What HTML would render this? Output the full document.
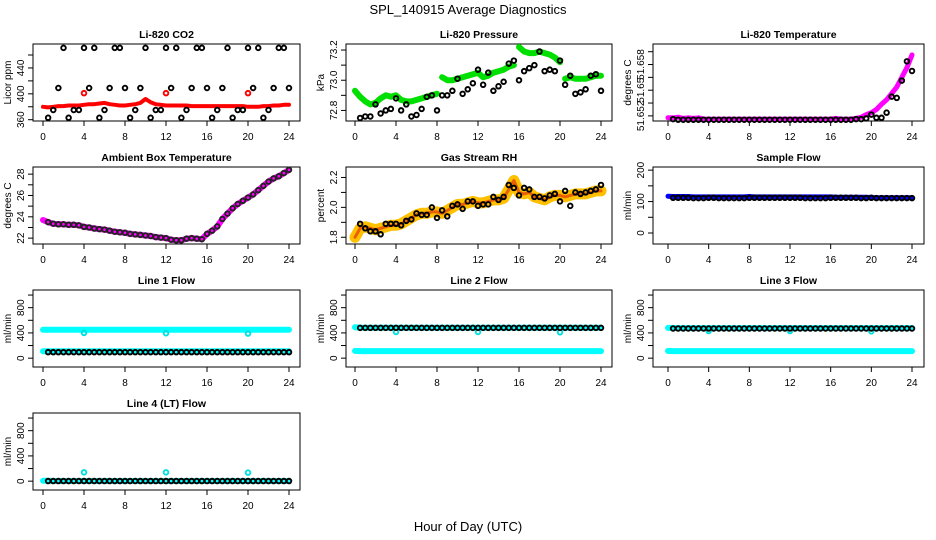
<!DOCTYPE html>
<html><head><meta charset="utf-8"><style>
html,body{margin:0;padding:0;background:#fff;}
svg{display:block;font-family:"Liberation Sans",sans-serif;}
</style></head><body>
<svg id="c" width="936" height="540" viewBox="0 0 936 540" xmlns="http://www.w3.org/2000/svg">
<text x="468" y="14" text-anchor="middle" font-size="13">SPL_140915  Average Diagnostics</text>
<text x="468" y="531" text-anchor="middle" font-size="13">Hour of Day (UTC)</text>
</svg>
<script>
// ---- data ----
const bandHours = [0,0.5,1,1.5,2,2.5,3,3.5,4,4.5,5,5.5,6,6.5,7,7.5,8,8.5,9,9.5,10,10.5,11,11.5,12,12.5,13,13.5,14,14.5,15,15.5,16,16.5,17,17.5,18,18.5,19,19.5,20,20.5,21,21.5,22,22.5,23,23.5,24];
const hours = [0.5,1,1.5,2,2.5,3,3.5,4,4.5,5,5.5,6,6.5,7,7.5,8,8.5,9,9.5,10,10.5,11,11.5,12,12.5,13,13.5,14,14.5,15,15.5,16,16.5,17,17.5,18,18.5,19,19.5,20,20.5,21,21.5,22,22.5,23,23.5,24];
const outlierHours = [4,12,20];

const co2Band = [380,379,380,381,381,382,382,382,383,384,384,385,386,384,383,382,382,383,384,386,392,387,384,383,382,382,382,382,382,381,381,381,381,381,381,381,381,381,381,381,380,380,380,381,381,382,382,383,383];
const co2Black = [363,375,409,471,363,375,375,471,409,471,363,375,409,471,471,409,363,375,409,471,363,375,375,471,409,471,363,375,409,471,471,409,363,375,409,471,363,375,375,471,409,471,363,375,409,471,471,409];
const co2Outliers = [401,401,401];

const presBand = [72.93,72.89,72.86,72.84,72.85,72.88,72.90,72.89,72.90,72.87,72.86,72.86,72.87,72.88,72.89,72.90,72.91,73.02,73.00,73.00,73.01,73.02,73.03,73.04,73.05,73.02,73.03,73.05,73.06,73.07,73.09,73.10,73.22,73.19,73.18,73.18,73.19,73.18,73.17,73.15,73.12,73.01,73.02,73.01,73.01,73.01,73.02,73.03,73.03];
const presBlack = [72.75,72.76,72.76,72.84,72.78,72.80,72.81,72.88,72.80,72.84,72.76,72.77,72.81,72.89,72.90,72.80,72.90,72.90,72.93,73.01,72.91,72.94,72.98,73.07,72.97,73.05,72.93,72.96,72.99,73.11,73.13,73.00,73.06,73.08,73.10,73.19,73.06,73.07,73.06,73.13,72.97,73.03,72.91,72.92,72.94,73.03,73.04,72.93];

const tempBand = [51.6457,51.6457,51.6458,51.6456,51.6457,51.6456,51.6457,51.6455,51.6455,51.6455,51.6455,51.6455,51.6455,51.6455,51.6455,51.6455,51.6455,51.6455,51.6455,51.6455,51.6455,51.6455,51.6455,51.6455,51.6455,51.6455,51.6455,51.6455,51.6455,51.6455,51.6455,51.6455,51.6455,51.6456,51.6455,51.6455,51.6455,51.6456,51.6458,51.6462,51.6465,51.6470,51.6478,51.6485,51.6495,51.6505,51.6520,51.6535,51.6555];
const tempBlack = [51.6455,51.6454,51.6454,51.6454,51.6454,51.6454,51.6454,51.6454,51.6454,51.6454,51.6454,51.6454,51.6454,51.6454,51.6454,51.6454,51.6454,51.6454,51.6454,51.6454,51.6454,51.6454,51.6454,51.6454,51.6454,51.6454,51.6454,51.6454,51.6454,51.6454,51.6454,51.6454,51.6454,51.6454,51.6454,51.6454,51.6455,51.6455,51.6456,51.6462,51.6457,51.6457,51.6465,51.6490,51.6488,51.6515,51.6545,51.6530];

const ambBand = [23.7,23.5,23.35,23.3,23.3,23.25,23.25,23.2,23.05,23.0,22.9,22.85,22.8,22.7,22.6,22.55,22.5,22.4,22.35,22.3,22.25,22.2,22.1,22.05,22.0,21.85,21.8,21.8,21.95,22.0,21.95,21.9,22.4,22.7,23.1,23.8,24.3,24.8,25.2,25.5,25.8,26.1,26.5,26.9,27.3,27.6,27.8,28.1,28.4];
const ambBlack = [23.5,23.35,23.3,23.3,23.25,23.25,23.2,23.05,23.0,22.9,22.85,22.8,22.7,22.6,22.55,22.5,22.4,22.35,22.3,22.25,22.2,22.1,22.05,22.0,21.85,21.8,21.8,21.95,22.0,21.95,21.9,22.4,22.7,23.1,23.8,24.3,24.8,25.2,25.5,25.8,26.1,26.5,26.9,27.3,27.6,27.8,28.1,28.4];

const rhBand = [1.80,1.86,1.87,1.86,1.85,1.86,1.87,1.88,1.88,1.89,1.91,1.93,1.95,1.96,1.96,1.97,1.97,1.96,1.98,2.00,2.02,2.02,2.03,2.04,2.03,2.03,2.04,2.05,2.05,2.06,2.12,2.18,2.10,2.09,2.10,2.07,2.06,2.05,2.07,2.08,2.08,2.07,2.08,2.09,2.09,2.09,2.10,2.11,2.11];
const rhBlack = [1.89,1.86,1.84,1.84,1.82,1.89,1.89,1.89,1.88,1.91,1.92,1.96,1.95,1.95,2.00,1.93,1.98,1.94,2.01,2.02,1.99,2.04,2.04,2.01,2.02,2.02,2.07,2.05,2.07,2.15,2.13,2.08,2.13,2.12,2.07,2.07,2.06,2.08,2.09,2.04,2.11,2.01,2.10,2.09,2.10,2.11,2.12,2.15];

const sampleBand = [117,116,116,116,116,115,115,115,115,115,115,115,115,115,115,115,116,115,115,115,115,115,115,115,115,115,115,115,115,115,115,115,115,114,114,114,114,114,114,114,113,112,112,112,112,112,112,112,112];
const sampleBlack = [112,112,112,112,111,111,111,112,112,111,111,111,111,111,111,112,112,112,112,112,112,112,112,112,112,112,111,111,111,111,111,112,112,112,112,112,112,111,111,112,111,111,111,111,111,111,111,111];

const line1Upper = [450,450,450,450,450,450,450,450,450,450,450,450,450,450,450,450,450,450,450,450,450,450,450,450,450,450,450,450,450,450,450,450,450,450,450,450,450,450,450,450,450,450,450,450,450,450,450,450,450];
const line1Lower = [110,110,108,108,108,108,108,108,108,108,108,108,108,108,108,108,108,108,108,108,108,108,108,108,108,108,108,108,108,108,108,108,108,108,108,108,108,108,108,108,108,108,108,108,108,108,108,108,108];
const line1Black = [95,95,95,95,95,95,95,95,95,95,95,95,95,95,95,95,95,95,95,95,95,95,95,95,95,95,95,95,95,95,95,95,95,95,95,95,95,95,95,95,95,95,95,95,95,95,95,95];
const line1Outliers = [400,395,390];

const line2Upper = [490,485,482,482,482,482,482,482,482,482,482,482,482,482,482,482,482,482,482,482,482,482,482,482,482,482,482,482,482,482,482,482,482,482,482,482,482,482,482,482,482,482,482,482,482,482,482,482,482];
const line2Lower = [115,112,112,112,112,112,112,112,112,112,112,112,112,112,112,112,112,112,112,112,112,112,112,112,112,112,112,112,112,112,112,112,112,112,112,112,112,112,112,112,112,112,112,112,112,112,112,112,112];
const line2Black = [480,480,480,480,480,480,480,480,480,480,480,480,480,480,480,480,480,480,480,480,480,480,480,480,480,480,480,480,480,480,480,480,480,480,480,480,480,480,480,480,480,480,480,480,480,480,480,480];
const line2Outliers = [415,415,410];

const line3Upper = [480,478,476,476,476,476,476,476,476,476,476,476,476,476,476,476,476,476,476,476,476,476,476,476,476,476,476,476,476,476,476,476,476,476,476,476,476,476,476,476,476,476,476,476,476,476,476,476,476];
const line3Lower = [115,112,112,112,112,112,112,112,112,112,112,112,112,112,112,112,112,112,112,112,112,112,112,112,112,112,112,112,112,112,112,112,112,112,112,112,112,112,112,112,112,112,112,112,112,112,112,112,112];
const line3Black = [470,470,470,470,470,470,470,470,470,470,470,470,470,470,470,470,470,470,470,470,470,470,470,470,470,470,470,470,470,470,470,470,470,470,470,470,470,470,470,470,470,470,470,470,470,470,470,470];
const line3Outliers = [430,430,425];

const line4Band = [5,5,3,3,3,3,3,3,3,3,3,3,3,3,3,3,3,3,3,3,3,3,3,3,3,3,3,3,3,3,3,3,3,3,3,3,3,3,3,3,3,3,3,3,3,3,3,3,3];
const line4Black = [2,2,2,2,2,2,2,2,2,2,2,2,2,2,2,2,2,2,2,2,2,2,2,2,2,2,2,2,2,2,2,2,2,2,2,2,2,2,2,2,2,2,2,2,2,2,2,2];
const line4Outliers = [140,140,135];

const xTicks = [0,4,8,12,16,20,24];
const flowTicks = [0,200,400,600,800,1000];
const flowLabels = ["0","","400","","800",""];

// ---- drawing ----
const svg = document.getElementById('c');
const NS = 'http://www.w3.org/2000/svg';
function mk(tag, attrs, parent){const e=document.createElementNS(NS,tag);for(const k in attrs)e.setAttribute(k,attrs[k]);(parent||svg).appendChild(e);return e;}

const cols = [{l:33,r:300,x0:43,x24:289},{l:346,r:612,x0:355,x24:601},{l:653,r:924,x0:668,x24:912}];
const rowTops = [44,167,290,413];
const H = 77;

function panel(slug, col, row, title, ytitle, ymin, ymax, yTicks, yLabels){
  const c = cols[col], top = rowTops[row], bot = top + H;
  const g = mk('g', {});
  
  
  const xs = v => c.x0 + (c.x24 - c.x0) * v / 24;
  const ys = v => bot - (v - ymin) / (ymax - ymin) * H;
  const box = mk('rect', {x:c.l, y:top, width:c.r-c.l, height:H, fill:'none', stroke:'#000', 'stroke-width':1}, g);
  
  
  const t = mk('text', {x:(c.l+c.r)/2, y:top-6, 'text-anchor':'middle', 'font-size':10.5, 'font-weight':'bold'}, g);
  t.textContent = title;
  
  
  const xa = mk('g', {}, g);
  
  
  mk('line', {x1:xs(xTicks[0]), x2:xs(xTicks[xTicks.length-1]), y1:bot, y2:bot, stroke:'#000'}, xa);
  xTicks.forEach(v => {
    mk('line', {x1:xs(v), x2:xs(v), y1:bot, y2:bot+5, stroke:'#000'}, xa);
    const tl = mk('text', {x:xs(v), y:bot+19, 'text-anchor':'middle', 'font-size':10}, xa);
    tl.textContent = v;
  });
  const ya = mk('g', {}, g);
  
  
  mk('line', {x1:c.l, x2:c.l, y1:ys(yTicks[0]), y2:ys(yTicks[yTicks.length-1]), stroke:'#000'}, ya);
  yTicks.forEach((v,i) => {
    mk('line', {x1:c.l-5, x2:c.l, y1:ys(v), y2:ys(v), stroke:'#000'}, ya);
    if (yLabels[i]) {
      const tl = mk('text', {x:c.l-9, y:ys(v), 'text-anchor':'middle', 'font-size':10, transform:`rotate(-90 ${c.l-9} ${ys(v)})`}, ya);
      tl.textContent = yLabels[i];
    }
  });
  const yt = mk('text', {x:c.l-22, y:(top+bot)/2, 'text-anchor':'middle', 'font-size':10, transform:`rotate(-90 ${c.l-22} ${(top+bot)/2})`}, g);
  yt.textContent = ytitle;
  
  
  return {g, xs, ys};
}
function band(p, slug, xsArr, ysArr, color, w, gapPx){
  const g = mk('g', {}, p.g);
  
  
  let seg = [];
  const flush = () => { if (seg.length) mk('polyline', {points:seg.join(' '), fill:'none', stroke:color, 'stroke-width':w, 'stroke-linejoin':'round', 'stroke-linecap':'round'}, g); seg = []; };
  xsArr.forEach((x,i)=>{
    const px = p.xs(x), py = p.ys(ysArr[i]);
    if (gapPx && i > 0 && Math.abs(py - p.ys(ysArr[i-1])) > gapPx) flush();
    seg.push(px.toFixed(1)+','+py.toFixed(1));
  });
  flush();
}
function dots(p, slug, xsArr, ysArr, color, r, sw){
  const g = mk('g', {}, p.g);
  
  
  xsArr.forEach((x,i)=>mk('circle', {cx:p.xs(x), cy:p.ys(ysArr[i]), r:r||2.3, fill:'none', stroke:color, 'stroke-width':sw||1.9}, g));
}

let p;
p = panel('co2', 0, 0, 'Li-820 CO2', 'Licor ppm', 358, 477, [360,380,400,420,440,460], ['360','','400','','440','']);
band(p, 'co2-raw-band', bandHours, co2Band, '#ff0000', 4);
dots(p, 'co2-outliers', outlierHours, co2Outliers, '#ff0000');
dots(p, 'co2-hourly-points', hours, co2Black, '#000');

p = panel('pressure', 1, 0, 'Li-820 Pressure', 'kPa', 72.73, 73.24, [72.8,72.9,73.0,73.1,73.2], ['72.8','','73.0','','73.2']);
band(p, 'pressure-raw-band', bandHours, presBand, '#00e000', 6, 8);
dots(p, 'pressure-hourly-points', hours, presBlack, '#000');

p = panel('temperature', 2, 0, 'Li-820 Temperature', 'degrees C', 51.6452, 51.6572, [51.646,51.648,51.650,51.652,51.654,51.656], ['51.652','','51.65','','51.658','']);
band(p, 'temperature-raw-band', bandHours, tempBand, '#ff00ff', 5);
dots(p, 'temperature-hourly-points', hours, tempBlack, '#000');

p = panel('ambient', 0, 1, 'Ambient Box Temperature', 'degrees C', 21.45, 28.67, [22,23,24,25,26,27,28], ['22','','24','','26','','28']);
band(p, 'ambient-raw-band', bandHours, ambBand, '#ff00ff', 6);
dots(p, 'ambient-hourly-points', hours, ambBlack, '#222');

p = panel('rh', 1, 1, 'Gas Stream RH', 'percent', 1.755, 2.27, [1.8,1.9,2.0,2.1,2.2], ['1.8','','2.0','','2.2']);
band(p, 'rh-raw-band', bandHours, rhBand, '#ffc000', 11);
band(p, 'rh-raw-core', bandHours, rhBand, '#e86000', 3);
dots(p, 'rh-hourly-points', hours, rhBlack, '#000');

p = panel('sample-flow', 2, 1, 'Sample Flow', 'ml/min', -35, 210, [0,50,100,150,200], ['0','','100','','200']);
band(p, 'sample-flow-raw-band', bandHours, sampleBand, '#0000ff', 5);
dots(p, 'sample-flow-hourly-points', hours, sampleBlack, '#000');

const fmin = -140, fmax = 1080;
p = panel('line1', 0, 2, 'Line 1 Flow', 'ml/min', fmin, fmax, flowTicks, flowLabels);
band(p, 'line1-upper-band', bandHours, line1Upper, '#00ffff', 6);
band(p, 'line1-lower-band', bandHours, line1Lower, '#00ffff', 6);
dots(p, 'line1-outliers', outlierHours, line1Outliers, '#00e0e0');
dots(p, 'line1-hourly-points', hours, line1Black, '#000');

p = panel('line2', 1, 2, 'Line 2 Flow', 'ml/min', fmin, fmax, flowTicks, flowLabels);
band(p, 'line2-upper-band', bandHours, line2Upper, '#00ffff', 6);
band(p, 'line2-lower-band', bandHours, line2Lower, '#00ffff', 6);
dots(p, 'line2-outliers', outlierHours, line2Outliers, '#00e0e0');
dots(p, 'line2-hourly-points', hours, line2Black, '#000');

p = panel('line3', 2, 2, 'Line 3 Flow', 'ml/min', fmin, fmax, flowTicks, flowLabels);
band(p, 'line3-upper-band', bandHours, line3Upper, '#00ffff', 6);
band(p, 'line3-lower-band', bandHours, line3Lower, '#00ffff', 6);
dots(p, 'line3-outliers', outlierHours, line3Outliers, '#00e0e0');
dots(p, 'line3-hourly-points', hours, line3Black, '#000');

p = panel('line4', 0, 3, 'Line 4 (LT) Flow', 'ml/min', fmin, fmax, flowTicks, flowLabels);
band(p, 'line4-band', bandHours, line4Band, '#00ffff', 6);
dots(p, 'line4-outliers', outlierHours, line4Outliers, '#00e0e0');
dots(p, 'line4-hourly-points', hours, line4Black, '#000');
</script>
</body></html>
